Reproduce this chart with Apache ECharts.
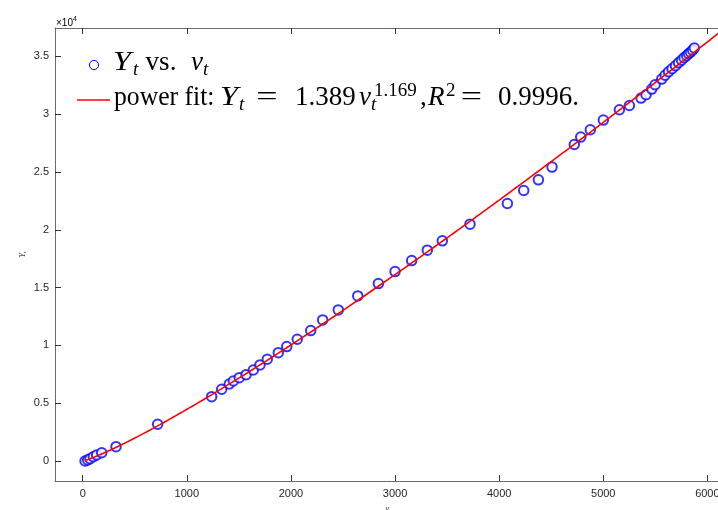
<!DOCTYPE html>
<html>
<head>
<meta charset="utf-8">
<script src="https://cdn.jsdelivr.net/npm/echarts@6/dist/echarts.min.js"></script>
<style>
  html, body { margin: 0; padding: 0; background: #ffffff; }
  #chart { width: 718px; height: 510px; }
</style>
</head>
<body>
<div id="chart"></div>
<script>
// Observed pairs (v_t, Y_t)
const vValues = [
  23, 48, 70, 102, 134, 183, 320, 720, 1239, 1335, 1408, 1447, 1504, 1569,
  1639, 1703, 1773, 1879, 1960, 2061, 2190, 2305, 2455, 2642, 2840, 3000,
  3160, 3310, 3454, 3720, 4079, 4236, 4377, 4508, 4722, 4784, 4876, 5001,
  5155, 5251, 5363, 5411, 5466, 5498, 5562, 5594, 5627, 5661, 5694, 5723,
  5752, 5776, 5800, 5819, 5838, 5858, 5875
];
const yValues = [
  0, 87, 200, 372, 519, 718, 1238, 3177, 5566, 6207, 6665, 6925, 7211, 7471,
  7877, 8310, 8804, 9375, 9895, 10535, 11280, 12206, 13071, 14283, 15348, 16387,
  17339, 18240, 19045, 20490, 22273, 23398, 24325, 25424, 27380, 28021, 28653, 29493,
  30385, 30757, 31397, 31683, 32176, 32549, 33040, 33370, 33674, 33934, 34193, 34453,
  34669, 34886, 35059, 35232, 35362, 35535, 35726
];

// Power-law fit Y = a * v^b
const fitCoef = 1.389;
const fitExp = 1.169;
const fitStart = 20;
const fitEnd = 6300;
const fitSteps = 200;

// Axis ranges and tick positions
const xMin = -266, xMax = 6131;
const yMin = -1731, yMax = 37460;
const xTicks = [0, 1000, 2000, 3000, 4000, 5000, 6000];
const yTicks = [0, 5000, 10000, 15000, 20000, 25000, 30000, 35000];

const scatterData = vValues.map((v, i) => [v, yValues[i]]);
const fitData = [];
for (let k = 0; k <= fitSteps; k++) {
  const v = fitStart + (fitEnd - fitStart) * k / fitSteps;
  fitData.push([v, fitCoef * Math.pow(v, fitExp)]);
}

const axisColor = '#6a6a6a';
const tickColor = '#333333';
const labelColor = '#262626';
const serif = '"Liberation Serif", "DejaVu Serif", serif';
const sans = '"Liberation Sans", Arial, sans-serif';

// Typeset legend text: each piece is [text, x, baseline, fontSize, italic, align, stretch]
function mathPiece(text, x, baseline, size, italic, align, stretch) {
  return {
    type: 'text', x: x, y: baseline - 0.34 * size, silent: true,
    scaleX: stretch || 1,
    style: {
      text: text, fill: '#000000',
      font: (italic ? 'italic ' : '') + size + 'px ' + serif,
      align: align || 'left', verticalAlign: 'middle'
    }
  };
}
const big = 27, small = 19;
const legendPieces = [
  // first entry: Y_t vs. v_t
  ['Y', 113, 72.5, big, true, 'left', 1.2],
  ['t', 133, 76.5, small, true],
  ['vs.', 161, 72.5, big, false, 'center'],
  ['v', 191, 72.5, big, true],
  ['t', 203, 76.5, small, true],
  // second entry: fitted power law
  ['power fit:', 114, 107, big, false, 'left', 0.95],
  ['Y', 220, 107, big, true, 'left', 1.2],
  ['t', 239, 111, small, true],
  ['=', 267, 107, big, false, 'center', 1.4],
  ['1.389', 295, 107, big, false],
  ['v', 359, 107, big, true],
  ['t', 371, 111, small, true],
  ['1.169', 374, 97, small, false],
  [',', 420, 107, big, false],
  ['R', 428, 107, big, true],
  ['2', 446, 97, small, false],
  ['=', 471.5, 107, big, false, 'center', 1.4],
  ['0.9996.', 498, 107, big, false]
];

const nameRich = {
  i: { fontFamily: serif, fontStyle: 'italic', fontSize: 8, color: labelColor },
  s: { fontFamily: serif, fontStyle: 'italic', fontSize: 5, color: labelColor, verticalAlign: 'bottom' }
};

const chart = echarts.init(document.getElementById('chart'), null, { renderer: 'canvas' });

chart.setOption({
  animation: false,
  backgroundColor: '#ffffff',
  grid: { left: 55, top: 28, width: 666, height: 453, outerBoundsMode: 'none', containLabel: false },
  xAxis: [
    {
      type: 'value', position: 'bottom', min: xMin, max: xMax,
      splitLine: { show: false },
      axisLine: { onZero: false, lineStyle: { color: axisColor, width: 1 } },
      axisTick: { inside: true, length: 6, customValues: xTicks, lineStyle: { color: tickColor } },
      axisLabel: {
        customValues: xTicks, color: labelColor, fontFamily: sans, fontSize: 11, margin: 7,
        formatter: (val) => String(val)
      },
      name: '{i|v}{s|t}', nameLocation: 'middle', nameGap: 24, nameMoveOverlap: false,
      nameTextStyle: { rich: nameRich }
    },
    {
      type: 'value', position: 'top', min: xMin, max: xMax,
      splitLine: { show: false },
      axisLine: { onZero: false, lineStyle: { color: axisColor, width: 1 } },
      axisTick: { inside: true, length: 6, customValues: xTicks, lineStyle: { color: tickColor } },
      axisLabel: { show: false }
    }
  ],
  yAxis: {
    type: 'value', min: yMin, max: yMax,
    splitLine: { show: false },
    axisLine: { show: true, onZero: false, lineStyle: { color: axisColor, width: 1 } },
    axisTick: { show: true, inside: true, length: 6, customValues: yTicks, lineStyle: { color: tickColor } },
    axisLabel: {
      customValues: yTicks, color: labelColor, fontFamily: sans, fontSize: 11, margin: 6,
      formatter: (val) => String(val / 10000)
    },
    name: '{i|Y}{s|t}', nameLocation: 'middle', nameGap: 28, nameRotate: 90, nameMoveOverlap: false,
    nameTextStyle: { rich: nameRich }
  },
  series: [
    {
      name: 'data', type: 'scatter', data: scatterData,
      symbol: 'emptyCircle', symbolSize: 9.5,
      itemStyle: { color: '#0000ff', borderColor: '#0000ff', borderWidth: 1 },
      z: 2
    },
    {
      name: 'fit', type: 'line', data: fitData, showSymbol: false, symbol: 'none',
      lineStyle: { color: '#ff0000', width: 1.6 },
      z: 3
    }
  ],
  graphic: [
    {
      type: 'text', left: 56, top: 16,
      style: {
        text: '{m|\u00d7}{b|10}{p|4}',
        rich: {
          m: { fontFamily: sans, fontSize: 10, color: labelColor, verticalAlign: 'bottom', lineHeight: 12 },
          b: { fontFamily: sans, fontSize: 10, color: labelColor, verticalAlign: 'bottom', lineHeight: 12 },
          p: { fontFamily: sans, fontSize: 7, color: labelColor, verticalAlign: 'top', lineHeight: 7 }
        }
      }
    },
    {
      type: 'circle', shape: { cx: 94, cy: 65, r: 4.6 },
      style: { fill: 'none', stroke: '#0000ff', lineWidth: 1 }
    },
    {
      type: 'line', shape: { x1: 77, y1: 100, x2: 110, y2: 100 },
      style: { stroke: '#ff0000', lineWidth: 1.6 }
    }
  ].concat(legendPieces.map(p => mathPiece(p[0], p[1], p[2], p[3], p[4], p[5], p[6])))
});
</script>
</body>
</html>
